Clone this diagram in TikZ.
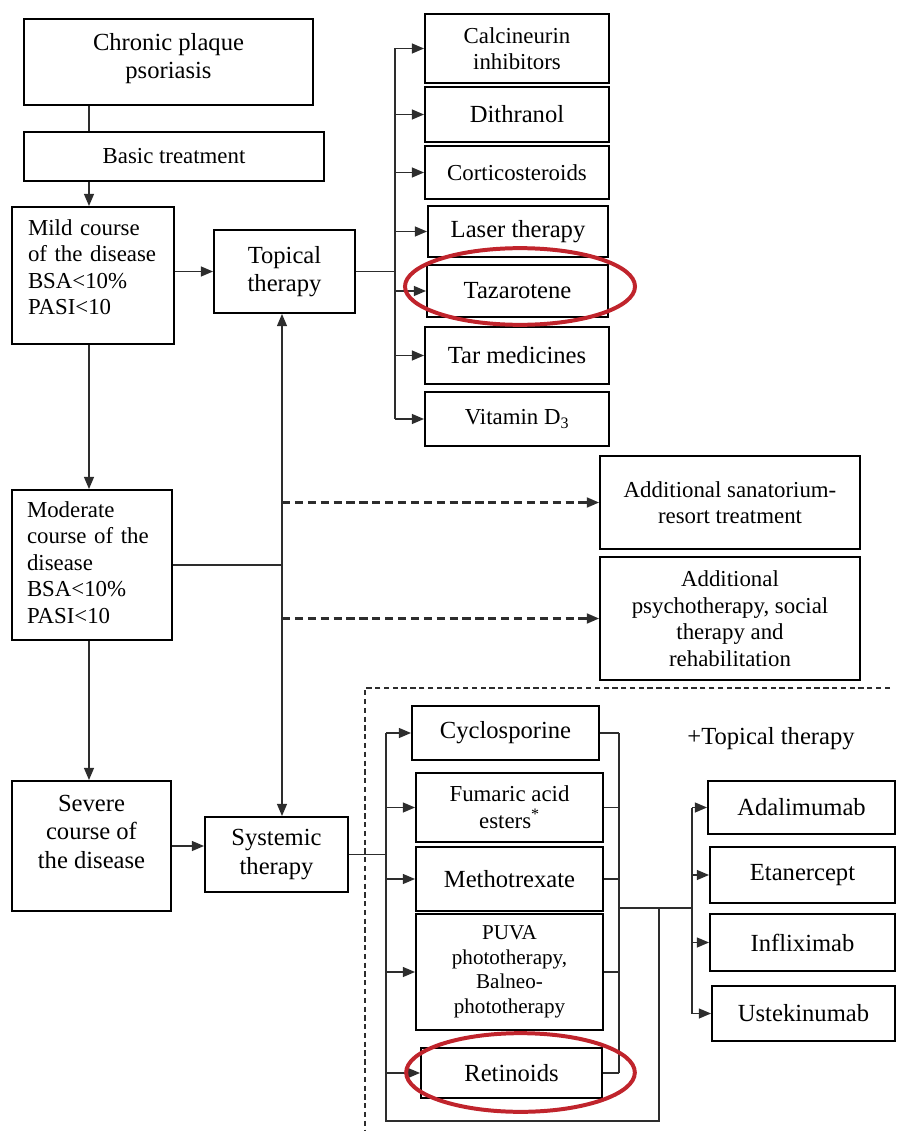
\documentclass[tikz,border=0pt]{standalone}
\usepackage{fontspec}
\setmainfont{Liberation Serif}
\usetikzlibrary{arrows.meta,calc}
\definecolor{ringred}{RGB}{192,36,44}
\definecolor{lineg}{RGB}{45,45,45}
\newcommand\fsBig{\fontsize{21}{24.5}\selectfont}
\newcommand\fsMid{\fontsize{19.5}{22.6}\selectfont}
\newcommand\fsSml{\fontsize{18}{21}\selectfont}
\begin{document}
\begin{tikzpicture}[x=0.03cm,y=-0.03cm,
  box/.style={draw, line width=1.6pt, align=center, inner sep=2pt, font=\fsBig},
  wh/.style 2 args={minimum width=#1*0.03cm, minimum height=#2*0.03cm},
  lbox/.style={box, align=left, inner xsep=15*0.03cm, font=\fsMid},
  con/.style={line width=1.4pt, draw=lineg},
  tip/.tip={Triangle[length=10.5pt,width=8.5pt]},
  arr/.style={con, -tip},
  darr/.style={con, -tip, line width=1.8pt, dash pattern=on 7pt off 4pt},
  framed/.style={line width=1.1pt, draw=lineg, dash pattern=on 4.5pt off 3pt},
  ring/.style={draw=ringred, line width=3.4pt}
]
\useasboundingbox (0,0) rectangle (896,1131);

% left column
\node[box, wh={289}{86}] (chronic) at (168.5,62) {\raisebox{0.1cm}[\height][\depth]{\begin{tabular}{@{}c@{}}Chronic plaque\\psoriasis\end{tabular}}};
\node[box, wh={300}{49}, font=\fsMid] (basic) at (174,156.5) {Basic treatment};
\node[lbox, wh={162}{137}, text width=130*0.03cm] (mild) at (93,275.5) {\raisebox{0.17cm}[\height][\depth]{\begin{tabular}{@{}l@{}}Mild course\\of the disease\\BSA<10\%\\PASI<10\end{tabular}}};
\node[lbox, wh={160}{150}, text width=130*0.03cm] (moderate) at (92,565) {\begin{tabular}{@{}l@{}}Moderate\\course of the\\disease\\BSA<10\%\\PASI<10\end{tabular}};
\node[box, wh={159}{130}] (severe) at (91.5,846) {\raisebox{0.36cm}[\height][\depth]{\begin{tabular}{@{}c@{}}Severe\\course of\\the disease\end{tabular}}};

\node[box, wh={141}{83}] (topical) at (284.5,271.5) {Topical\\therapy};
\node[box, wh={143}{75}] (systemic) at (276.5,854.5) {Systemic\\therapy};

% topical list
\node[box, wh={184}{69}, font=\fsMid] (calc) at (517,48.5) {Calcineurin\\inhibitors};
\node[box, wh={184}{55}] (dith) at (517,114.5) {Dithranol};
\node[box, wh={184}{53}, font=\fsMid] (cort) at (517,172.5) {Corticosteroids};
\node[box, wh={180}{51}] (laser) at (518,231.5) {Laser therapy};
\node[box, wh={181}{52}] (taz) at (517.5,291) {Tazarotene};
\node[box, wh={184}{57}] (tar) at (517,355.5) {Tar medicines};
\node[box, wh={184}{54}, font=\fsMid] (vitd) at (517,419) {Vitamin D\textsubscript{3}};

% additional
\node[box, wh={260}{93}, font=\fsMid] (sanat) at (730,502.5) {Additional sanatorium-\\resort treatment};
\node[box, wh={260}{123}, font=\fsMid] (psych) at (730,618.5) {Additional\\psychotherapy, social\\therapy and\\rehabilitation};

% systemic list
\node[box, wh={187}{54}] (cyclo) at (505.5,733) {Cyclosporine};
\node[box, wh={187}{69}, font=\fontsize{19.5}{23}\selectfont] (fum) at (509.5,807.5) {Fumaric acid\\esters\textsuperscript{*}};
\node[box, wh={187}{64}] (mtx) at (509.5,879) {Methotrexate};
\node[box, wh={187}{116}, font=\fsSml] (puva) at (509.5,972) {PUVA\\phototherapy,\\Balneo-\\phototherapy};
\node[box, wh={181}{50}] (ret) at (511.5,1073) {Retinoids};

% biologics
\node[box, wh={187}{53}] (ada) at (801.5,807.5) {Adalimumab};
\node[box, wh={185}{56}] (eta) at (802.5,875) {Etanercept};
\node[box, wh={185}{57}] (inf) at (802.5,942.5) {Infliximab};
\node[box, wh={183}{55}] (ust) at (803.5,1013.5) {Ustekinumab};
\node[font=\fsBig, inner sep=0pt] (plus) at (771,739) {+Topical therapy};

% bus coordinates
\coordinate (lx) at (89,0);
\coordinate (vb) at (282,0);
\coordinate (tb) at (395,0);
\coordinate (sb) at (386,0);
\coordinate (rb) at (619,0);
\coordinate (lp) at (659,0);
\coordinate (bb) at (692,0);
\coordinate (bot) at (0,1121);
\coordinate (mid) at (0,908);
\coordinate (fa) at (890,688);
\coordinate (fb) at (365,688);
\coordinate (fc) at (365,1131);

% left column connectors
\draw[con] (chronic.south -| lx) -- (basic.north -| lx);
\draw[arr] (basic.south -| lx) -- (mild.north -| lx);
\draw[arr] (mild.south -| lx) -- (moderate.north -| lx);
\draw[arr] (moderate.south -| lx) -- (severe.north -| lx);
\draw[arr] (mild.east |- topical.west) -- (topical.west);
\draw[arr] (severe.east) -- (severe.east -| systemic.west);

% vertical between topical and systemic
\draw[con, tip-tip] (topical.south -| vb) -- (systemic.north -| vb);
\draw[con] (moderate.east) -- (moderate.east -| vb);
\draw[darr] (sanat.west -| vb) -- (sanat.west);
\draw[darr] (psych.west -| vb) -- (psych.west);

% topical branch
\draw[con] (topical.east) -- (topical.east -| tb);
\draw[con] (calc.west -| tb) -- (vitd.west -| tb);
\foreach \n in {calc,dith,cort,laser,taz,tar,vitd}
  \draw[arr] (\n.west -| tb) -- (\n.west);

% systemic branch
\draw[con] (systemic.east) -- (systemic.east -| sb);
\draw[con] (cyclo.west -| sb) -- (bot -| sb) -- (bot -| lp) -- (mid -| lp);
\foreach \n in {cyclo,fum,mtx,puva,ret}
  \draw[arr] (\n.west -| sb) -- (\n.west);
\foreach \n in {cyclo,fum,mtx,puva,ret}
  \draw[con] (\n.east) -- (\n.east -| rb);
\draw[con] (cyclo.east -| rb) -- (ret.east -| rb);
\draw[con] (mid -| rb) -- (mid -| bb);
\draw[con] (ada.west -| bb) -- (ust.west -| bb);
\foreach \n in {ada,eta,inf,ust}
  \draw[arr] (\n.west -| bb) -- (\n.west);

% dashed frame
\draw[framed] (fa) -- (fb) -- (fc);

% red rings
\draw[ring] ($(taz.center)+(2.5,-4.5)$) ellipse [x radius=3.45cm, y radius=1.15cm];
\draw[ring] ($(ret.center)+(9,-0.5)$) ellipse [x radius=3.43cm, y radius=1.18cm];
\end{tikzpicture}
\end{document}
